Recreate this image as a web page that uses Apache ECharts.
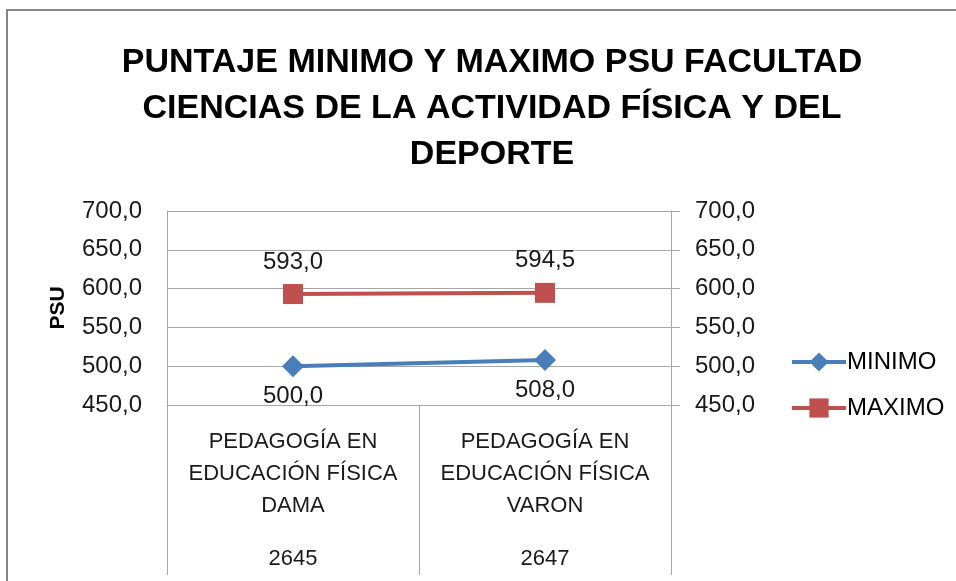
<!DOCTYPE html>
<html>
<head>
    <meta charset="UTF-8">
    <title>Puntaje PSU</title>
    <script src="https://cdn.jsdelivr.net/npm/echarts@6/dist/echarts.min.js"></script>
    <style>
        html, body { margin: 0; padding: 0; background: #fff; }
        #chart { width: 956px; height: 581px; }
    </style>
</head>
<body>
    <div id="chart"></div>
    <script>
        const carreras = ['PEDAGOGÍA EN\nEDUCACIÓN FÍSICA\nDAMA', 'PEDAGOGÍA EN\nEDUCACIÓN FÍSICA\nVARON'];
        const codigos = ['2645', '2647'];
        const minimo = [500.0, 508.0];
        const maximo = [593.0, 594.5];

        const font = '"Liberation Sans", Arial, sans-serif';
        const fmt = v => v.toFixed(1).replace('.', ',');
        const gridColor = '#a6a6a6';

        const chart = echarts.init(document.getElementById('chart'));

        const option = {
            animation: false,
            textStyle: { fontFamily: font },
            title: {
                text: 'PUNTAJE MINIMO Y MAXIMO PSU FACULTAD\nCIENCIAS DE LA ACTIVIDAD FÍSICA Y DEL\nDEPORTE',
                left: 487,
                top: 35,
                textAlign: 'center',
                textStyle: { fontSize: 34, fontWeight: 'bold', color: '#000', lineHeight: 46, fontFamily: font }
            },
            graphic: [{
                type: 'rect',
                shape: { x: 7, y: 10, width: 1000, height: 700 },
                style: { fill: 'none', stroke: '#868686', lineWidth: 2 },
                silent: true
            }],
            legend: {
                orient: 'vertical',
                left: 785,
                top: 345,
                itemGap: 22,
                itemWidth: 54,
                itemHeight: 24,
                lineStyle: { width: 4 },
                textStyle: { fontSize: 24, color: '#000', fontFamily: font, padding: [0, 0, 0, -4] },
                data: ['MINIMO', 'MAXIMO']
            },
            grid: { left: 167, right: 285, top: 211, bottom: 176 },
            xAxis: [{
                type: 'category',
                data: carreras,
                boundaryGap: true,
                axisLine: { lineStyle: { color: gridColor, width: 1 } },
                axisTick: { show: true, length: 170, lineStyle: { color: gridColor } },
                axisLabel: { fontSize: 22, lineHeight: 32, color: '#1a1a1a', margin: 21, interval: 0 },
                splitLine: { show: false }
            }, {
                type: 'category',
                data: codigos,
                position: 'bottom',
                offset: 135,
                axisLine: { show: false },
                axisTick: { show: false },
                axisLabel: { fontSize: 22, color: '#1a1a1a', margin: 8 }
            }],
            yAxis: [{
                type: 'value',
                min: 450,
                max: 700,
                interval: 50,
                name: 'PSU',
                nameLocation: 'middle',
                nameGap: 98,
                nameRotate: 90,
                nameTextStyle: { fontSize: 21, fontWeight: 'bold', color: '#000' },
                axisLine: { show: true, lineStyle: { color: gridColor } },
                axisTick: { show: false },
                axisLabel: { fontSize: 24, color: '#1a1a1a', margin: 25, formatter: fmt },
                splitLine: { lineStyle: { color: gridColor } }
            }, {
                type: 'value',
                min: 450,
                max: 700,
                interval: 50,
                position: 'right',
                axisLine: { show: true, lineStyle: { color: gridColor } },
                axisTick: { show: true, length: 9, lineStyle: { color: gridColor } },
                axisLabel: { fontSize: 24, color: '#1a1a1a', margin: 24, formatter: fmt },
                splitLine: { show: false }
            }],
            series: [{
                name: 'MINIMO',
                type: 'line',
                data: minimo,
                symbol: 'diamond',
                symbolSize: 22,
                color: '#4a7ebb',
                lineStyle: { width: 4, color: '#4a7ebb' },
                label: {
                    show: true,
                    position: 'bottom',
                    distance: 7,
                    fontSize: 24,
                    color: '#1a1a1a',
                    formatter: p => fmt(p.value)
                }
            }, {
                name: 'MAXIMO',
                type: 'line',
                data: maximo,
                symbol: 'rect',
                symbolSize: 20,
                color: '#c0504d',
                lineStyle: { width: 4, color: '#c0504d' },
                label: {
                    show: true,
                    position: 'top',
                    distance: 10,
                    fontSize: 24,
                    color: '#1a1a1a',
                    formatter: p => fmt(p.value)
                }
            }]
        };

        chart.setOption(option);
    </script>
</body>
</html>
